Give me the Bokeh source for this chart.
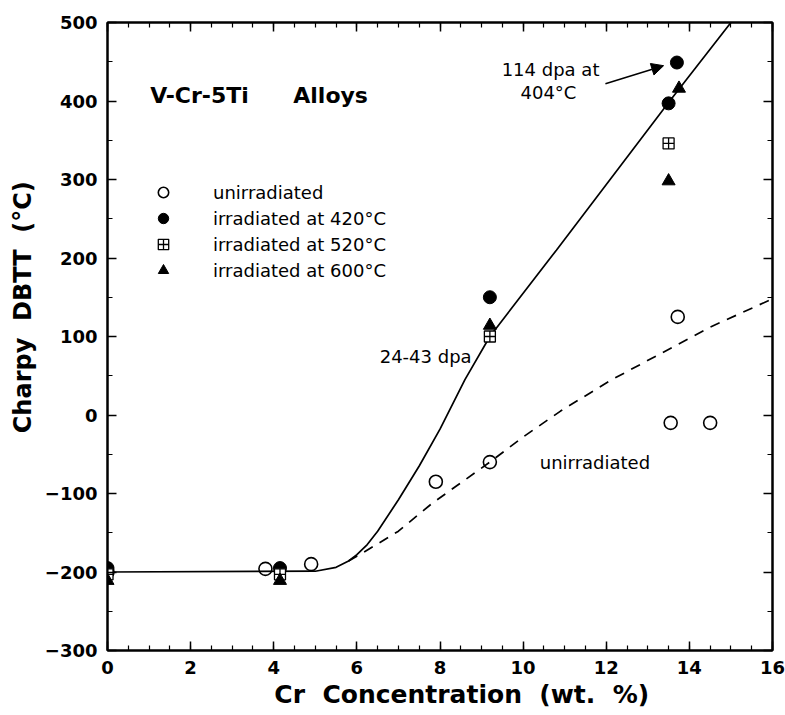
from bokeh.plotting import figure
from bokeh.models import (Range1d, LinearAxis, SingleIntervalTicker, Label, Arrow,
                          NormalHead, Legend, LegendItem, CustomJSTickFormatter)
from bokeh.embed import file_html
from bokeh.resources import INLINE

# ---- data ----
unirr_x = [0.0, 3.8, 4.9, 7.9, 9.2, 13.55, 13.72, 14.5]
unirr_y = [-200, -196, -190, -85, -60, -10, 125, -10]

irr420_x = [0.0, 4.15, 9.2, 13.5, 13.7]
irr420_y = [-195, -195, 150, 397, 449]

irr520_x = [0.0, 4.15, 9.2, 13.5]
irr520_y = [-203, -203, 100, 346]

irr600_x = [0.0, 4.15, 9.2, 13.5, 13.75]
irr600_y = [-211, -211, 114, 298, 416]

fit_irr_x = [0, 5.0, 5.5, 5.8, 6.0, 6.25, 6.5, 7.0, 7.5, 8.0, 8.6, 9.2, 10.8, 13.5, 15.0]
fit_irr_y = [-200, -199, -194, -186, -178, -165, -148, -108, -65, -18, 45, 100, 210, 398, 500]

fit_unirr_x = [5.8, 6.1, 7.0, 7.8, 8.3, 9.2, 10.0, 10.9, 12.1, 13.3, 14.5, 16.0]
fit_unirr_y = [-186, -177, -148, -113, -94, -60, -28, 5, 44, 78, 112, 148]

legend_labels = ["unirradiated", "irradiated at 420°C", "irradiated at 520°C", "irradiated at 600°C"]

FONT = "DejaVu Sans"
NB = "\u00a0"

p = figure(width=785, height=715, output_backend="svg", toolbar_location=None,
           x_range=Range1d(0, 16), y_range=Range1d(-300, 500),
           min_border_left=107, min_border_right=13, min_border_top=22, min_border_bottom=65,
           x_axis_location=None, y_axis_location=None)
p.grid.visible = False
p.outline_line_color = "black"
p.outline_line_width = 2
p.background_fill_color = "white"
p.border_fill_color = "white"

def style_axis(ax, labels=True):
    ax.axis_line_width = 2
    ax.axis_line_color = "black"
    ax.major_tick_in = 9
    ax.major_tick_out = 0
    ax.minor_tick_in = 5
    ax.minor_tick_out = 0
    ax.major_tick_line_width = 1.5
    ax.minor_tick_line_width = 1.2
    ax.major_label_text_font = FONT
    ax.major_label_text_font_style = "bold"
    ax.major_label_text_font_size = "18px"
    ax.major_label_text_color = "black"
    ax.axis_label_text_color = "black"
    if not labels:
        ax.formatter = CustomJSTickFormatter(code="return ''")
        ax.major_label_standoff = 0

xt = lambda: SingleIntervalTicker(interval=2, num_minor_ticks=4)
yt = lambda: SingleIntervalTicker(interval=100, num_minor_ticks=2)

xb = LinearAxis(ticker=xt())
style_axis(xb)
xb.major_label_standoff = 10
xb.axis_label = NB * 5 + "Cr" + NB * 2 + "Concentration" + NB * 2 + "(wt." + NB * 2 + "%)"
xb.axis_label_text_font = FONT
xb.axis_label_text_font_style = "bold"
xb.axis_label_text_font_size = "25px"
xb.axis_label_standoff = 3
p.add_layout(xb, "below")

yl = LinearAxis(ticker=yt())
style_axis(yl)
yl.major_label_standoff = 10
yl.axis_label = NB * 7 + "Charpy" + NB * 2 + "DBTT" + NB * 2 + "(°C)"
yl.axis_label_text_font = FONT
yl.axis_label_text_font_style = "bold"
yl.axis_label_text_font_size = "24px"
yl.axis_label_standoff = 5
p.add_layout(yl, "left")

xa = LinearAxis(ticker=xt())
style_axis(xa, labels=False)
p.add_layout(xa, "above")

yr = LinearAxis(ticker=yt())
style_axis(yr, labels=False)
p.add_layout(yr, "right")

# curves
p.line(fit_irr_x, fit_irr_y, line_color="black", line_width=1.7)
p.line(fit_unirr_x, fit_unirr_y, line_color="black", line_width=1.7, line_dash="10 8")

# markers
r_un = p.scatter(unirr_x, unirr_y, marker="circle", size=13, fill_color=None,
                 line_color="black", line_width=1.6)
r420 = p.scatter(irr420_x, irr420_y, marker="circle", size=13, fill_color="black",
                 line_color="black")
r520 = p.scatter(irr520_x, irr520_y, marker="square_cross", size=11, fill_color="white",
                 line_color="black", line_width=1.3)
r600 = p.scatter(irr600_x, irr600_y, marker="triangle", size=13, fill_color="black",
                 line_color="black")

legend = Legend(items=[LegendItem(label=legend_labels[0], renderers=[r_un]),
                       LegendItem(label=legend_labels[1], renderers=[r420]),
                       LegendItem(label=legend_labels[2], renderers=[r520]),
                       LegendItem(label=legend_labels[3], renderers=[r600])],
                location=(40, 367), border_line_color=None, background_fill_alpha=0,
                padding=0, margin=0, spacing=0, glyph_width=32, glyph_height=26,
                label_height=20, label_standoff=34,
                label_text_font=FONT, label_text_font_size="18px", label_text_color="black")
p.add_layout(legend, "center")

def lab(x, y, text, size="18px", align="left", bold=False):
    p.add_layout(Label(x=x, y=y, text=text, text_font=FONT, text_font_size=size,
                       text_align=align, text_baseline="middle", text_color="black",
                       text_font_style="bold" if bold else "normal"))

lab(1.03, 407, "V-Cr-5Ti", size="22px", bold=True)
lab(4.47, 407, "Alloys", size="22px", bold=True)
lab(10.66, 440, "114 dpa at", align="center")
lab(10.61, 411, "404°C", align="center")
lab(8.76, 75, "24-43 dpa", align="right")
lab(10.4, -60, "unirradiated")

p.add_layout(Arrow(end=NormalHead(size=12, fill_color="black", line_color="black"),
                   x_start=11.98, y_start=422, x_end=13.38, y_end=445,
                   line_width=1.5, line_color="black"))

open("out.html", "w").write(file_html(p, INLINE))
